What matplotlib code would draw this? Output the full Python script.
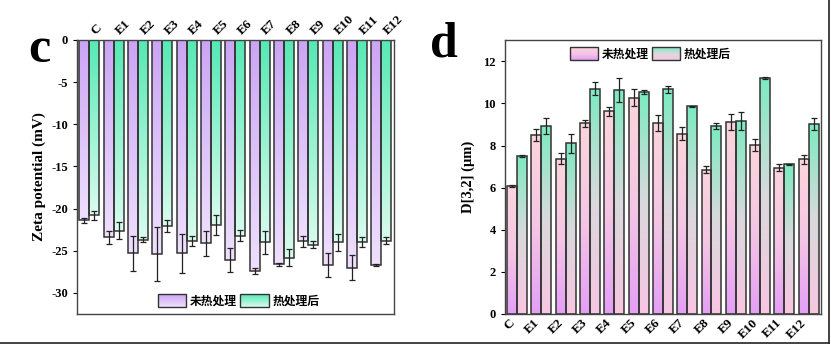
import matplotlib
matplotlib.use('Agg')
import matplotlib.pyplot as plt
import numpy as np
from matplotlib.colors import LinearSegmentedColormap
from matplotlib.patches import Rectangle
from matplotlib.legend_handler import HandlerBase
from matplotlib.image import BboxImage
from matplotlib.transforms import Bbox, TransformedBbox

plt.rcParams['font.family'] = ['Liberation Serif', 'Noto Sans CJK SC']
plt.rcParams['font.weight'] = 'bold'
plt.rcParams['axes.unicode_minus'] = False

groups = ['C', 'E1', 'E2', 'E3', 'E4', 'E5', 'E6', 'E7', 'E8', 'E9', 'E10', 'E11', 'E12']
series = ['未热处理', '热处理后']

# c: Zeta potential (mV)
zeta_raw = [-21.4, -23.4, -25.3, -25.4, -25.3, -24.1, -26.1, -27.4, -26.6, -23.9, -26.7, -27.0, -26.7]
zeta_raw_err = [0.3, 0.8, 2.1, 3.2, 2.3, 1.5, 1.4, 0.3, 0.2, 0.7, 1.4, 1.5, 0.1]
zeta_heat = [-20.8, -22.6, -23.7, -22.1, -23.8, -21.9, -23.2, -24.0, -25.8, -24.3, -24.0, -24.0, -23.8]
zeta_heat_err = [0.5, 1.0, 0.3, 0.7, 0.6, 1.2, 0.7, 1.4, 1.0, 0.4, 1.0, 0.6, 0.4]

# d: D[3,2] (um)
d32_raw = [6.08, 8.49, 7.38, 9.06, 9.62, 10.27, 9.06, 8.57, 6.86, 9.13, 8.03, 6.95, 7.35]
d32_raw_err = [0.03, 0.29, 0.25, 0.16, 0.23, 0.40, 0.38, 0.32, 0.15, 0.37, 0.27, 0.17, 0.22]
d32_heat = [7.51, 8.94, 8.10, 10.71, 10.62, 10.54, 10.67, 9.86, 8.92, 9.16, 11.21, 7.11, 9.02]
d32_heat_err = [0.05, 0.38, 0.43, 0.33, 0.57, 0.11, 0.16, 0.02, 0.13, 0.44, 0.03, 0.02, 0.29]

# 渐变色：从数值轴零点向外
cm_c_raw = LinearSegmentedColormap.from_list('c_raw', ['#cba4f5', '#efe0fd'])
cm_c_heat = LinearSegmentedColormap.from_list('c_heat', ['#55e9b4', '#dafcee'])
cm_d_raw = LinearSegmentedColormap.from_list('d_raw', ['#e49ff6', '#f5c6e4', '#fbd5dc'])
cm_d_heat = LinearSegmentedColormap.from_list('d_heat', ['#f8c6e2', '#d9d9dc', '#7cebc1'])

grad = np.linspace(0, 1, 256).reshape(-1, 1)


def gradient_bars(ax, bars, cmap):
    """用渐变图像填充柱子"""
    for b in bars:
        x, w = b.get_x(), b.get_width()
        y0, y1 = b.get_y(), b.get_y() + b.get_height()
        img = ax.imshow(grad, cmap=cmap, aspect='auto', origin='lower' if y1 > y0 else 'upper',
                        extent=[x, x + w, min(y0, y1), max(y0, y1)], zorder=1)
        img.set_clip_path(b)


class GradHandle:
    def __init__(self, cmap, flip):
        self.cmap, self.flip = cmap, flip


class HandlerGrad(HandlerBase):
    def create_artists(self, legend, orig_handle, xdescent, ydescent, width, height, fontsize, trans):
        bb = TransformedBbox(Bbox.from_bounds(-xdescent, -ydescent, width, height), trans)
        im = BboxImage(bb, cmap=orig_handle.cmap, origin='upper' if orig_handle.flip else 'lower')
        im.set_data(grad)
        rect = Rectangle((-xdescent, -ydescent), width, height, facecolor='none',
                         edgecolor='#333', lw=1.0, transform=trans)
        return [im, rect]


fig = plt.figure(figsize=(8.31, 3.46), dpi=100)
axc = fig.add_axes([0.0927, 0.0925, 0.381, 0.792])
axd = fig.add_axes([0.6077, 0.0925, 0.380, 0.791])

x = np.arange(len(groups))
w = 0.41
ekw = dict(ecolor='#222', elinewidth=0.9, capsize=2.2, capthick=0.9)
leg_prop = {'family': ['Noto Sans CJK SC'], 'weight': 'bold', 'size': 8.5}

# ---- c ----
b1 = axc.bar(x - w / 2, zeta_raw, w, facecolor='none', edgecolor='#333', lw=1.1, zorder=2)
b2 = axc.bar(x + w / 2, zeta_heat, w, facecolor='none', edgecolor='#333', lw=1.1, zorder=2)
gradient_bars(axc, b1, cm_c_raw)
gradient_bars(axc, b2, cm_c_heat)
axc.errorbar(x - w / 2, zeta_raw, yerr=zeta_raw_err, fmt='none', zorder=3, **ekw)
axc.errorbar(x + w / 2, zeta_heat, yerr=zeta_heat_err, fmt='none', zorder=3, **ekw)
axc.set_xlim(-0.5, len(groups) - 0.5)
axc.set_ylim(-32.5, 0)
axc.set_yticks(np.arange(-30, 1, 5))
axc.xaxis.tick_top()
axc.set_xticks(x)
axc.set_xticklabels(groups, rotation=45, ha='left', va='bottom', fontsize=9.5, fontweight='bold')
axc.tick_params(axis='x', length=0, pad=2)
axc.tick_params(axis='y', labelsize=9, length=3, width=0.8)
axc.set_ylabel('Zeta potential (mV)', fontsize=11, fontweight='bold', labelpad=4)
axc.legend(handles=[GradHandle(cm_c_raw, True), GradHandle(cm_c_heat, True)],
           labels=series, handler_map={GradHandle: HandlerGrad()},
           loc='lower center', bbox_to_anchor=(0.51, -0.015), ncol=2,
           frameon=False, handlelength=2.4, handleheight=1.3, columnspacing=0.3,
           handletextpad=0.3, prop=leg_prop)

# ---- d ----
b3 = axd.bar(x - w / 2, d32_raw, w, facecolor='none', edgecolor='#333', lw=1.1, zorder=2)
b4 = axd.bar(x + w / 2, d32_heat, w, facecolor='none', edgecolor='#333', lw=1.1, zorder=2)
gradient_bars(axd, b3, cm_d_raw)
gradient_bars(axd, b4, cm_d_heat)
axd.errorbar(x - w / 2, d32_raw, yerr=d32_raw_err, fmt='none', zorder=3, **ekw)
axd.errorbar(x + w / 2, d32_heat, yerr=d32_heat_err, fmt='none', zorder=3, **ekw)
axd.set_xlim(-0.5, len(groups) - 0.5)
axd.set_ylim(0, 13)
axd.set_yticks(np.arange(0, 13, 2))
axd.set_xticks(x)
axd.set_xticklabels(groups, rotation=45, ha='right', va='top', fontsize=9.5, fontweight='bold')
axd.tick_params(axis='x', length=0, pad=2)
axd.tick_params(axis='y', labelsize=9, length=3, width=0.8)
axd.set_ylabel('D[3,2] (μm)', fontsize=10.5, fontweight='bold', labelpad=6)
axd.legend(handles=[GradHandle(cm_d_raw, False), GradHandle(cm_d_heat, False)],
           labels=series, handler_map={GradHandle: HandlerGrad()},
           loc='upper center', bbox_to_anchor=(0.46, 1.015), ncol=2,
           frameon=False, handlelength=2.4, handleheight=1.3, columnspacing=0.3,
           handletextpad=0.3, prop=leg_prop)

for ax in (axc, axd):
    for s in ax.spines.values():
        s.set_color('#444')
        s.set_linewidth(1.0)

fig.text(0.034, 0.855, 'c', fontsize=36, fontweight='bold', ha='left', va='center')
fig.text(0.517, 0.87, 'd', fontsize=36, fontweight='bold', ha='left', va='center')

# 截图外框（底边、右边）
fig.add_artist(plt.Line2D([0, 0.997], [0.008, 0.008], color='#222', lw=1.2, transform=fig.transFigure))
fig.add_artist(plt.Line2D([0.997, 0.997], [0.008, 1], color='#222', lw=1.2, transform=fig.transFigure))

fig.savefig('out.png', dpi=100, facecolor='white')
plt.close(fig)
